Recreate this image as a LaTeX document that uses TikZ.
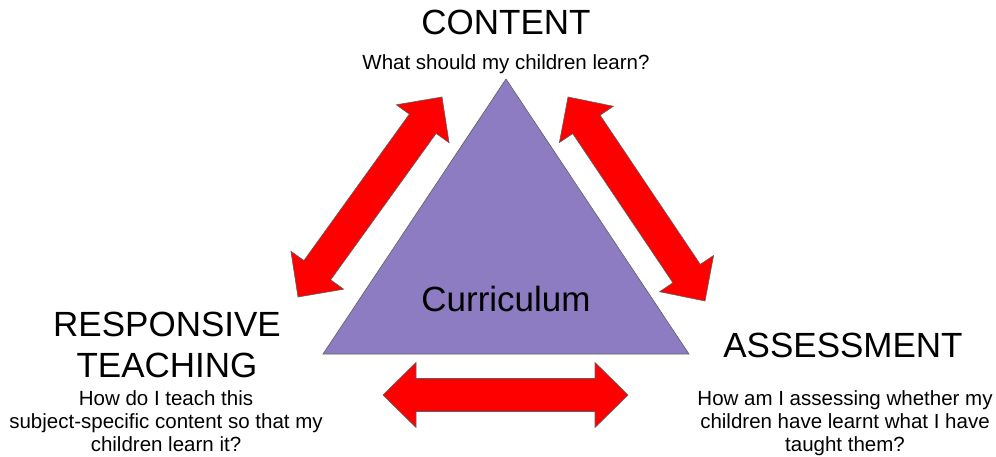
\documentclass[tikz,border=0pt]{standalone}
\usepackage{fontspec}
\setmainfont{Liberation Sans}
\usetikzlibrary{calc}

\definecolor{triviolet}{HTML}{8E7CC3}
\definecolor{arrowred}{HTML}{FF0000}
\definecolor{edgegrey}{HTML}{5F5F5F}

% block arrow with a head at both ends, from tip #1 to tip #2
\newcommand{\bothways}[2]{%
  \filldraw[arrowbox] (#1)
    -- ($(#1)!33pt!(#2)!32.5pt!90:(#2)$) -- ($(#1)!33pt!(#2)!16.5pt!90:(#2)$)
    -- ($(#2)!33pt!(#1)!16.5pt!-90:(#1)$) -- ($(#2)!33pt!(#1)!32.5pt!-90:(#1)$)
    -- (#2)
    -- ($(#2)!33pt!(#1)!32.5pt!90:(#1)$) -- ($(#2)!33pt!(#1)!16.5pt!90:(#1)$)
    -- ($(#1)!33pt!(#2)!16.5pt!-90:(#2)$) -- ($(#1)!33pt!(#2)!32.5pt!-90:(#2)$)
    -- cycle;}

\begin{document}
\begin{tikzpicture}[x=1pt, y=-1pt,
  title/.style={font=\fontsize{35}{41}\selectfont, align=center, inner sep=0pt},
  question/.style={font=\fontsize{20.5}{23}\selectfont, align=center, inner sep=0pt},
  arrowbox/.style={fill=arrowred, draw=edgegrey, line width=0.6pt, line join=miter}]
\useasboundingbox (0,0) rectangle (996,457);

% the triangle
\coordinate (apex) at (506,79);
\coordinate (lcorner) at (323,354);
\coordinate (rcorner) at (689,354);
\filldraw[fill=triviolet, draw=edgegrey, line width=0.6pt] (apex) -- (lcorner) -- (rcorner) -- cycle;
\node[font=\fontsize{35}{40}\selectfont, inner sep=0pt, anchor=base] (curric) at (506,311) {Curriculum};

% the three corners
\node[title, anchor=base] (content) at (506,35) {CONTENT};
\node[question, anchor=base] (contentq) at (506,70) {What should my children learn?};

\node[title, anchor=north] (teach) at (167,312) {RESPONSIVE\\TEACHING};
\node[question, anchor=north] (teachq) at (166,390) {How do I teach this\\subject-specific content so that my\\children learn it?};

\node[title, anchor=north] (assess) at (843,333) {ASSESSMENT};
\node[question, anchor=north] (assessq) at (845,390) {How am I assessing whether my\\children have learnt what I have\\taught them?};

% arrows between them
\coordinate (tl) at (442,97);
\coordinate (bl) at (298,297);
\coordinate (tr) at (568,97);
\coordinate (br) at (705,301);
\coordinate (ml) at (383,395);
\coordinate (mr) at (628,395);
\bothways{bl}{tl}
\bothways{tr}{br}
\bothways{ml}{mr}
\end{tikzpicture}
\end{document}
